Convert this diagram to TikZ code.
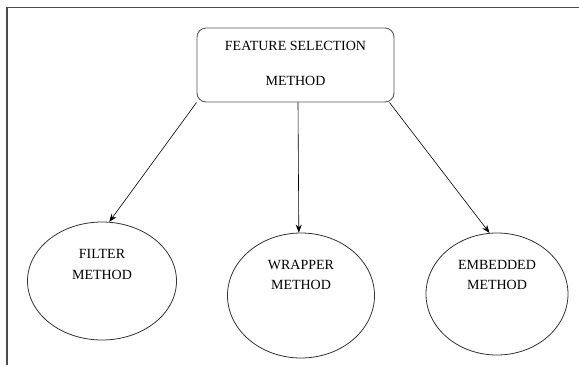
\documentclass[tikz,border=0pt]{standalone}
\usepackage{fontspec}
\setmainfont{Liberation Serif}
\usetikzlibrary{arrows.meta,shapes.geometric}
\begin{document}
\begin{tikzpicture}[x=1pt,y=-1pt,
  lbl/.style={font=\fontsize{14}{16}\selectfont, inner sep=0pt, anchor=base},
  oval/.style={draw=black!80, line width=0.8pt, ellipse, inner sep=0pt},
  arr/.style={draw, line width=0.6pt, -{Stealth[length=8pt,width=6pt]}}
]
\useasboundingbox (0,0) rectangle (579,365);
\draw[line width=1.4pt, draw=black!70] (7,365) -- (7,7.5) -- (579,7.5);
\node[draw, line width=0.9pt, draw=black!65, rounded corners=9pt, minimum width=197pt, minimum height=74pt, inner sep=0pt] (fs) at (295.5,65) {};
\node[lbl] (fst1) at (295.5,50.5) {FEATURE SELECTION};
\node[lbl] (fst2) at (295.5,85) {METHOD};
\node[oval, minimum width=149pt, minimum height=118pt] (f) at (102,281) {};
\node[oval, minimum width=147pt, minimum height=125pt] (w) at (301,295.5) {};
\node[oval, minimum width=142pt, minimum height=122pt] (e) at (497,294) {};
\node[lbl] (ft1) at (102,258) {FILTER};
\node[lbl] (ft2) at (102,279.5) {METHOD};
\node[lbl] (wt1) at (301,269) {WRAPPER};
\node[lbl] (wt2) at (301,289) {METHOD};
\node[lbl] (et1) at (497,269) {EMBEDDED};
\node[lbl] (et2) at (497,289) {METHOD};
\draw[arr] (fs.south west) -- (f.83);
\draw[arr] ([xshift=2.5pt]fs.south) -- (w.92.5);
\draw[arr] ([xshift=-5pt]fs.south east) -- (e.97);
\end{tikzpicture}
\end{document}
